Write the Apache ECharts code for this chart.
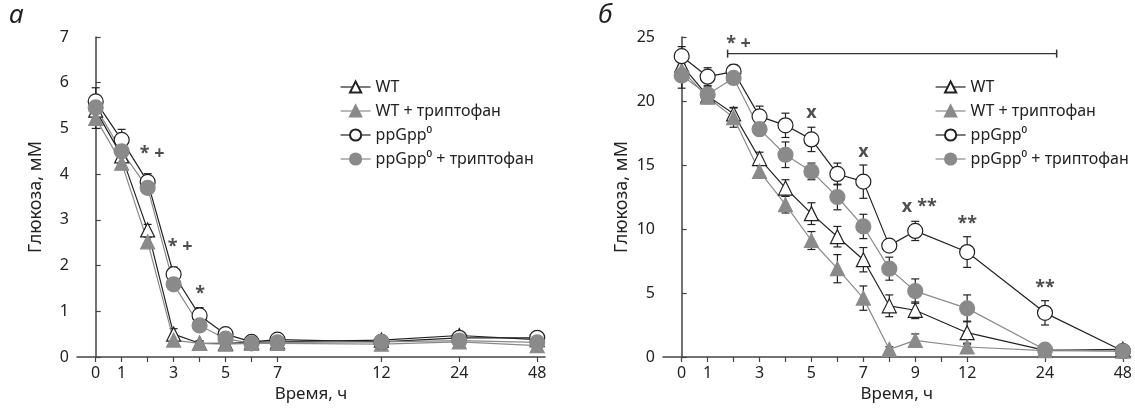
<!DOCTYPE html>
<html>
<head>
<meta charset="utf-8">
<script src="https://cdn.jsdelivr.net/npm/echarts@6/dist/echarts.min.js"></script>
<style>
	html, body { margin: 0; padding: 0; background: #fff; }
	#chart { width: 1135px; height: 410px; }
</style>
</head>
<body>
<div id="chart"></div>
<script>
// time points, h
var hoursA = [0, 1, 2, 3, 4, 5, 6, 7, 12, 24, 48];
var hoursB = [0, 1, 2, 3, 4, 5, 6, 7, 8, 9, 12, 24, 48];
var tickHoursA = [0, 1, 2, 3, 4, 5, 6, 7, 12, 24, 48];
var labelHoursA = [0, 1, 3, 5, 7, 12, 24, 48];
var tickHoursB = [0, 1, 2, 3, 4, 5, 6, 7, 8, 9, 10, 12, 24, 48];
var labelHoursB = [0, 1, 3, 5, 7, 9, 12, 24, 48];

// panel a, glucose mM
var wtA     = [5.40, 4.40, 2.78, 0.50, 0.30, 0.30, 0.32, 0.33, 0.37, 0.47, 0.38];
var wtTrpA  = [5.22, 4.24, 2.52, 0.37, 0.30, 0.28, 0.30, 0.30, 0.28, 0.33, 0.25];
var ppA     = [5.59, 4.75, 3.83, 1.81, 0.91, 0.50, 0.33, 0.38, 0.33, 0.42, 0.42];
var ppTrpA  = [5.46, 4.50, 3.70, 1.59, 0.69, 0.40, 0.30, 0.32, 0.33, 0.36, 0.32];
var wtErrA    = [0.15, 0.10, 0.12, 0.12, 0.05, 0.05, 0.05, 0.05, 0.08, 0.08, 0.05];
var wtTrpErrA = [0.22, 0.10, 0.10, 0.05, 0.05, 0.05, 0.05, 0.05, 0.05, 0.05, 0.05];
var ppErrA    = [0.30, 0.23, 0.18, 0.16, 0.17, 0.08, 0.06, 0.06, 0.05, 0.05, 0.05];
var ppTrpErrA = [0.20, 0.12, 0.10, 0.10, 0.10, 0.06, 0.05, 0.05, 0.05, 0.05, 0.05];

// panel b, glucose mM
var wtB     = [22.8, 20.4, 19.0, 15.5, 13.2, 11.2, 9.4, 7.6, 4.0, 3.65, 1.9, 0.52, 0.6];
var wtTrpB  = [22.4, 20.3, 18.7, 14.5, 11.9, 9.1, 6.9, 4.6, 0.6, 1.3, 0.78, 0.5, 0.45];
var ppB     = [23.5, 21.9, 22.3, 18.8, 18.1, 17.0, 14.3, 13.7, 8.7, 9.85, 8.2, 3.45, 0.47];
var ppTrpB  = [22.0, 20.5, 21.8, 17.8, 15.8, 14.5, 12.5, 10.2, 6.9, 5.15, 3.8, 0.57, 0.45];
var wtErrB    = [0.4, 0.5, 0.5, 0.5, 0.65, 0.85, 0.8, 0.95, 0.85, 0.65, 0.9, 0.2, 0.2];
var wtTrpErrB = [0.4, 0.5, 0.75, 0.5, 0.65, 0.7, 1.1, 0.95, 0.2, 0.5, 0.3, 0.2, 0.2];
var ppErrB    = [0.75, 0.7, 0.55, 0.8, 0.95, 0.95, 0.85, 1.3, 0.3, 0.75, 1.2, 0.95, 0.2];
var ppTrpErrB = [1.0, 0.6, 0.4, 0.5, 1.0, 0.65, 1.0, 0.95, 0.9, 0.95, 1.05, 0.2, 0.2];

// significance marks: [time position, glucose, text]
var marksA = [[2.17, 4.44, '* +'], [3.25, 2.41, '* +'], [4.02, 1.39, '*']];
var marksB = [[2.19, 24.5, '* +'], [5, 19.05, 'x'], [7, 16.05, 'x'], [8.68, 11.74, 'x'],
	[9.45, 11.74, '**'], [11, 10.4, '**'], [14, 5.43, '**']];
var bracketB = [[1.77, 23.7], [14.45, 23.7]];

var names = ['WT', 'WT + триптофан', 'ppGpp\u2070', 'ppGpp\u2070 + триптофан'];

// broken time axis: hours past 10 are squeezed
var breakHours = [12, 24, 48];
var breakSlots = [11, 14, 17];
function hourSlot(h) {
	var i = breakHours.indexOf(h);
	return i < 0 ? h : breakSlots[i];
}
function slotHour(s) {
	var i = breakSlots.indexOf(s);
	return i < 0 ? s : breakHours[i];
}

var BLACK = '#222';
var GRAY = '#8a8a8a';
var FONT = 'Noto Sans';

function pairs(hours, vals) {
	return hours.map(function (h, i) { return [hourSlot(h), vals[i]]; });
}
function errData(hours, vals, errs) {
	return hours.map(function (h, i) { return [hourSlot(h), vals[i] - errs[i], vals[i] + errs[i]]; });
}

function errSeries(idx, hours, vals, errs, color) {
	return {
		type: 'custom',
		xAxisIndex: idx, yAxisIndex: idx,
		z: 1,
		silent: true,
		encode: { x: 0, y: [1, 2] },
		data: errData(hours, vals, errs),
		renderItem: function (params, api) {
			var x = api.value(0);
			var lo = api.coord([x, api.value(1)]);
			var hi = api.coord([x, api.value(2)]);
			var w = 4;
			var st = { stroke: color, lineWidth: 1.2 };
			return {
				type: 'group',
				children: [
					{ type: 'line', shape: { x1: lo[0], y1: lo[1], x2: hi[0], y2: hi[1] }, style: st },
					{ type: 'line', shape: { x1: hi[0] - w, y1: hi[1], x2: hi[0] + w, y2: hi[1] }, style: st },
					{ type: 'line', shape: { x1: lo[0] - w, y1: lo[1], x2: lo[0] + w, y2: lo[1] }, style: st }
				]
			};
		}
	};
}

function lineSeries(idx, name, hours, vals, symbol, filled, color) {
	return {
		name: name,
		type: 'line',
		xAxisIndex: idx, yAxisIndex: idx,
		z: 2,
		symbol: symbol,
		symbolSize: symbol === 'circle' ? 15 : 14,
		showAllSymbol: true,
		lineStyle: { color: color, width: 1.2 },
		itemStyle: {
			color: filled ? GRAY : '#fff',
			borderColor: filled ? GRAY : BLACK,
			borderWidth: 1.2,
			opacity: 1
		},
		data: pairs(hours, vals)
	};
}

function markSeries(idx, marks) {
	return {
		type: 'scatter',
		xAxisIndex: idx, yAxisIndex: idx,
		z: 3,
		silent: true,
		symbolSize: 0,
		label: {
			show: true,
			position: 'inside',
			formatter: '{b}',
			color: BLACK,
			fontFamily: FONT,
			fontSize: 18,
			fontWeight: 'bold'
		},
		data: marks.map(function (m) { return { name: m[2], value: [m[0], m[1]] }; })
	};
}

function xAxis(idx, ticks, labels) {
	return {
		type: 'value',
		gridIndex: idx,
		min: -0.72,
		max: 17.3,
		name: 'Время, ч',
		nameLocation: 'middle',
		nameGap: 24,
		nameTextStyle: { color: BLACK, fontFamily: FONT, fontSize: 17 },
		axisLine: { lineStyle: { color: '#444', width: 1.5 } },
		axisTick: { show: true, length: 5, lineStyle: { color: '#444', width: 1.2 }, customValues: ticks.map(hourSlot) },
		axisLabel: {
			color: BLACK, fontFamily: FONT, fontSize: 16, margin: 8,
			customValues: labels.map(hourSlot),
			formatter: function (v) { return String(slotHour(v)); }
		},
		splitLine: { show: false }
	};
}

function yAxis(idx, max, step) {
	return {
		type: 'value',
		gridIndex: idx,
		min: 0,
		max: max,
		interval: step,
		name: 'Глюкоза, мМ',
		nameLocation: 'middle',
		nameGap: 32,
		nameTextStyle: { color: BLACK, fontFamily: FONT, fontSize: 18 },
		axisLine: { show: true, lineStyle: { color: '#444', width: 1.5 } },
		axisTick: { show: true, inside: true, length: 5, lineStyle: { color: '#444', width: 1.2 } },
		axisLabel: { color: BLACK, fontFamily: FONT, fontSize: 16, margin: 8 },
		splitLine: { show: false }
	};
}

function legend(left) {
	return {
		data: names,
		orient: 'vertical',
		left: left,
		top: 74,
		itemWidth: 30,
		itemHeight: 14,
		itemGap: 8,
		selectedMode: false,
		lineStyle: { width: 1.2 },
		textStyle: { color: BLACK, fontFamily: FONT, fontSize: 16 }
	};
}

var chart = echarts.init(document.getElementById('chart'));
var option = {
	animation: false,
	backgroundColor: '#fff',
	title: [
		{ text: 'а', left: 4, top: -2, textStyle: { fontFamily: FONT, fontSize: 26, fontStyle: 'italic', fontWeight: 'normal', color: BLACK } },
		{ text: 'б', left: 593, top: -2, textStyle: { fontFamily: FONT, fontSize: 26, fontStyle: 'italic', fontWeight: 'normal', color: BLACK } }
	],
	legend: [legend(335), legend(930)],
	grid: [
		{ left: 77, top: 37, width: 468, height: 320 },
		{ left: 663, top: 37, width: 470, height: 320 }
	],
	xAxis: [xAxis(0, tickHoursA, labelHoursA), xAxis(1, tickHoursB, labelHoursB)],
	yAxis: [yAxis(0, 7, 1), yAxis(1, 25, 5)],
	series: [
		errSeries(0, hoursA, wtA, wtErrA, BLACK),
		errSeries(0, hoursA, wtTrpA, wtTrpErrA, BLACK),
		errSeries(0, hoursA, ppA, ppErrA, BLACK),
		errSeries(0, hoursA, ppTrpA, ppTrpErrA, BLACK),
		lineSeries(0, names[0], hoursA, wtA, 'triangle', false, BLACK),
		lineSeries(0, names[1], hoursA, wtTrpA, 'triangle', true, GRAY),
		lineSeries(0, names[2], hoursA, ppA, 'circle', false, BLACK),
		lineSeries(0, names[3], hoursA, ppTrpA, 'circle', true, GRAY),
		markSeries(0, marksA),

		errSeries(1, hoursB, wtB, wtErrB, BLACK),
		errSeries(1, hoursB, wtTrpB, wtTrpErrB, BLACK),
		errSeries(1, hoursB, ppB, ppErrB, BLACK),
		errSeries(1, hoursB, ppTrpB, ppTrpErrB, BLACK),
		lineSeries(1, names[0], hoursB, wtB, 'triangle', false, BLACK),
		lineSeries(1, names[1], hoursB, wtTrpB, 'triangle', true, GRAY),
		lineSeries(1, names[2], hoursB, ppB, 'circle', false, BLACK),
		lineSeries(1, names[3], hoursB, ppTrpB, 'circle', true, GRAY),
		markSeries(1, marksB),
		{
			type: 'line',
			xAxisIndex: 1, yAxisIndex: 1,
			silent: true,
			symbol: 'rect',
			symbolSize: [1.5, 8],
			itemStyle: { color: '#333' },
			lineStyle: { color: '#333', width: 1.2 },
			data: bracketB
		}
	]
};
chart.setOption(option);
</script>
</body>
</html>
